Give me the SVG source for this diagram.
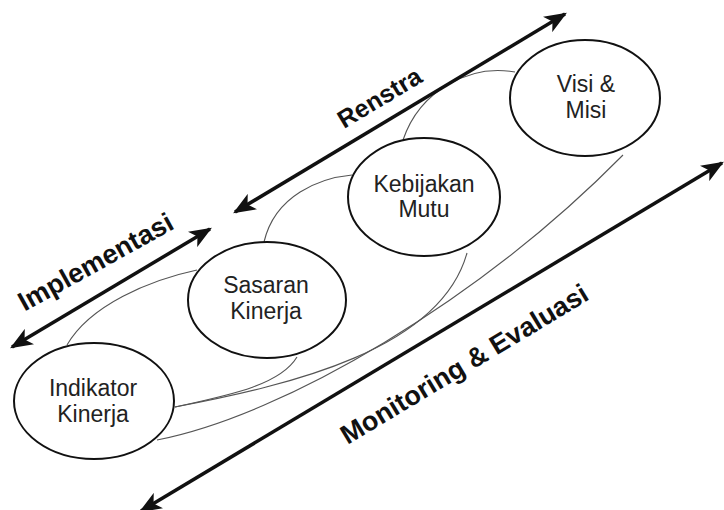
<svg xmlns="http://www.w3.org/2000/svg" width="724" height="510" viewBox="0 0 724 510">
<style>
.node{fill:#fff;stroke:#111;stroke-width:2}
.nt{font-family:"Liberation Sans",Arial,sans-serif;font-size:23px;fill:#222;text-anchor:middle}
.lbl{font-family:"Liberation Sans",Arial,sans-serif;font-weight:bold;fill:#111;text-anchor:middle}
.cur{fill:none;stroke:#555;stroke-width:1.1}
.arr{fill:none;stroke:#111;stroke-width:3.5;marker-start:url(#ah);marker-end:url(#ah)}
</style>
<defs>
<marker id="ah" viewBox="0 0 20 16" refX="18" refY="8" markerWidth="23" markerHeight="18" markerUnits="userSpaceOnUse" orient="auto-start-reverse">
<path d="M0,0 L20,8 L0,16 L5,8 Z" fill="#111"/>
</marker>
</defs>
<rect width="724" height="510" fill="#fff"/>
<g id="connectors">
<path class="cur" d="M515,72 C470,64 420,90 403,140"/>
<path class="cur" d="M352,175 C320,178 275,195 264,242"/>
<path class="cur" d="M197,270 C150,280 90,305 67,345"/>
<path class="cur" d="M297,357 C280,385 230,395 175,407"/>
<path class="cur" d="M175,407 C290,385 440,350 467,253"/>
<path class="cur" d="M157,440 C285,415 480,300 623,155"/>
<path class="arr" d="M235,212 L565,14"/>
<path class="arr" d="M12,347 L210,229"/>
<path class="arr" d="M141,511 L722,163"/>
</g>
<g id="indikator">
<ellipse class="node" cx="94" cy="401" rx="80" ry="58"/>
<text class="nt" x="93" y="396">Indikator</text>
<text class="nt" x="93" y="422">Kinerja</text>
</g>
<g id="sasaran">
<ellipse class="node" cx="267" cy="300" rx="79" ry="58"/>
<text class="nt" x="266" y="293">Sasaran</text>
<text class="nt" x="266" y="319">Kinerja</text>
</g>
<g id="kebijakan">
<ellipse class="node" cx="424" cy="197" rx="76" ry="59"/>
<text class="nt" x="424" y="192">Kebijakan</text>
<text class="nt" x="424" y="217">Mutu</text>
</g>
<g id="visi">
<ellipse class="node" cx="585" cy="98" rx="75" ry="58"/>
<text class="nt" x="586" y="92">Visi &amp;</text>
<text class="nt" x="586" y="118">Misi</text>
</g>
<g id="labels">
<text class="lbl" font-size="25" transform="translate(384,105) rotate(-31)">Renstra</text>
<text class="lbl" font-size="27" transform="translate(100,270) rotate(-29)">Implementasi</text>
<text class="lbl" font-size="27" transform="translate(469,372) rotate(-31)">Monitoring &amp; Evaluasi</text>
</g>
</svg>
